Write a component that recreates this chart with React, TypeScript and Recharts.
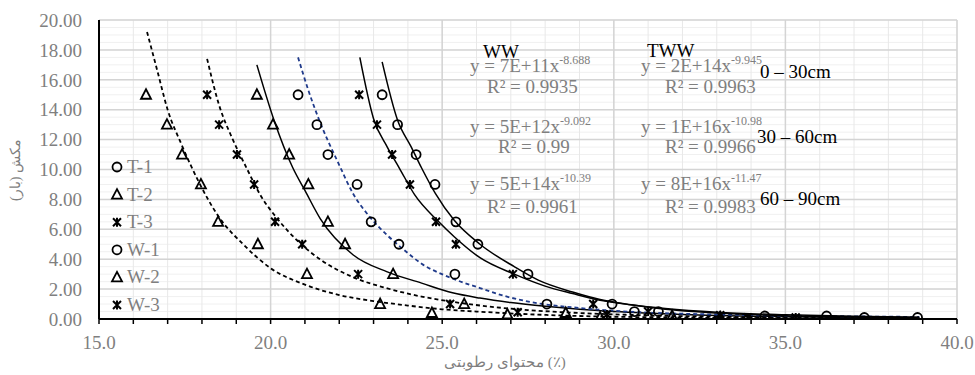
import React from 'react';
import {
  ComposedChart,
  Scatter,
  Line,
  XAxis,
  YAxis,
  CartesianGrid,
} from 'recharts';

// measured points (x = moisture %, y = suction bar)
const T1 = [
  { x: 23.25, y: 15 }, { x: 23.7, y: 13 }, { x: 24.24, y: 11 }, { x: 24.79, y: 9 },
  { x: 25.4, y: 6.5 }, { x: 26.04, y: 5 }, { x: 27.5, y: 3 }, { x: 29.95, y: 1 },
  { x: 31.3, y: 0.5 }, { x: 36.2, y: 0.2 }, { x: 38.85, y: 0.1 },
];
const T2 = [
  { x: 19.6, y: 15 }, { x: 20.07, y: 13 }, { x: 20.54, y: 11 }, { x: 21.1, y: 9 },
  { x: 21.67, y: 6.5 }, { x: 22.17, y: 5 }, { x: 23.57, y: 3 }, { x: 25.64, y: 1 },
  { x: 28.6, y: 0.4 }, { x: 31.7, y: 0.2 }, { x: 33.1, y: 0.1 },
];
const T3 = [
  { x: 22.58, y: 15 }, { x: 23.1, y: 13 }, { x: 23.54, y: 11 }, { x: 24.06, y: 9 },
  { x: 24.82, y: 6.5 }, { x: 25.4, y: 5 }, { x: 27.06, y: 3 }, { x: 29.4, y: 1 },
  { x: 31.0, y: 0.5 }, { x: 33.1, y: 0.25 }, { x: 35.3, y: 0.1 },
];
const W1 = [
  { x: 20.8, y: 15 }, { x: 21.35, y: 13 }, { x: 21.67, y: 11 }, { x: 22.52, y: 9 },
  { x: 22.93, y: 6.5 }, { x: 23.74, y: 5 }, { x: 25.37, y: 3 }, { x: 28.05, y: 1 },
  { x: 30.6, y: 0.5 }, { x: 34.4, y: 0.2 }, { x: 37.3, y: 0.1 },
];
const W2 = [
  { x: 16.37, y: 15 }, { x: 16.98, y: 13 }, { x: 17.42, y: 11 }, { x: 17.97, y: 9 },
  { x: 18.47, y: 6.5 }, { x: 19.63, y: 5 }, { x: 21.06, y: 3 }, { x: 23.19, y: 1 },
  { x: 24.7, y: 0.4 }, { x: 26.9, y: 0.3 }, { x: 29.6, y: 0.1 },
];
const W3 = [
  { x: 18.15, y: 15 }, { x: 18.5, y: 13 }, { x: 19.02, y: 11 }, { x: 19.52, y: 9 },
  { x: 20.13, y: 6.5 }, { x: 20.92, y: 5 }, { x: 22.55, y: 3 }, { x: 25.23, y: 1 },
  { x: 27.2, y: 0.45 }, { x: 29.8, y: 0.3 }, { x: 33.9, y: 0.1 },
];

// trend lines
const fitWW1 = [
  { x: 16.4, y: 19.2 }, { x: 16.7, y: 16.6 }, { x: 17.0, y: 14.0 }, { x: 17.4, y: 11.7 },
  { x: 17.9, y: 9.2 }, { x: 18.5, y: 6.8 }, { x: 19.2, y: 5.0 }, { x: 20.0, y: 3.4 },
  { x: 21.0, y: 2.3 }, { x: 22.0, y: 1.6 }, { x: 23.0, y: 1.2 }, { x: 24.0, y: 0.9 },
  { x: 25.0, y: 0.65 }, { x: 26.0, y: 0.5 }, { x: 27.5, y: 0.32 }, { x: 29.0, y: 0.2 },
  { x: 31.0, y: 0.12 }, { x: 34.0, y: 0.06 }, { x: 38.9, y: 0.03 },
];
const fitWW2 = [
  { x: 18.15, y: 17.4 }, { x: 18.5, y: 14.3 }, { x: 18.9, y: 12.0 }, { x: 19.3, y: 10.1 },
  { x: 19.7, y: 8.3 }, { x: 20.2, y: 6.7 }, { x: 20.8, y: 5.2 }, { x: 21.5, y: 3.9 },
  { x: 22.4, y: 2.8 }, { x: 23.4, y: 2.05 }, { x: 24.4, y: 1.5 }, { x: 25.3, y: 1.15 },
  { x: 26.3, y: 0.85 }, { x: 27.5, y: 0.6 }, { x: 29.0, y: 0.4 }, { x: 31.0, y: 0.24 },
  { x: 34.0, y: 0.12 }, { x: 38.9, y: 0.05 },
];
const fitWW3 = [
  { x: 19.6, y: 17.0 }, { x: 20.1, y: 13.3 }, { x: 20.65, y: 10.1 }, { x: 21.0, y: 8.6 },
  { x: 21.45, y: 6.7 }, { x: 22.4, y: 4.3 }, { x: 23.4, y: 3.15 }, { x: 24.4, y: 2.4 },
  { x: 25.3, y: 1.75 }, { x: 26.1, y: 1.4 }, { x: 27.0, y: 1.1 }, { x: 28.0, y: 0.85 },
  { x: 29.0, y: 0.65 }, { x: 30.0, y: 0.5 }, { x: 32.0, y: 0.3 }, { x: 35.0, y: 0.15 },
  { x: 38.9, y: 0.07 },
];
const fitTWW1 = [
  { x: 20.8, y: 17.5 }, { x: 21.1, y: 15.3 }, { x: 21.4, y: 13.4 }, { x: 22.0, y: 10.3 },
  { x: 22.4, y: 8.4 }, { x: 22.9, y: 6.8 }, { x: 23.4, y: 5.6 }, { x: 23.9, y: 4.6 },
  { x: 24.4, y: 3.7 }, { x: 25.2, y: 2.8 }, { x: 26.1, y: 2.07 }, { x: 26.8, y: 1.55 },
  { x: 27.8, y: 1.05 }, { x: 28.8, y: 0.78 }, { x: 29.7, y: 0.6 }, { x: 31.1, y: 0.42 },
  { x: 33.0, y: 0.3 }, { x: 36.0, y: 0.2 }, { x: 38.9, y: 0.14 },
];
const fitTWW2 = [
  { x: 22.6, y: 17.5 }, { x: 23.0, y: 13.4 }, { x: 23.4, y: 11.5 }, { x: 23.75, y: 10.1 },
  { x: 24.2, y: 8.3 }, { x: 24.9, y: 6.5 }, { x: 25.35, y: 5.5 }, { x: 26.1, y: 4.1 },
  { x: 27.1, y: 3.0 }, { x: 28.0, y: 2.2 }, { x: 28.8, y: 1.7 }, { x: 29.6, y: 1.25 },
  { x: 30.5, y: 0.95 }, { x: 31.5, y: 0.7 }, { x: 33.0, y: 0.45 }, { x: 35.0, y: 0.28 },
  { x: 37.0, y: 0.18 }, { x: 38.9, y: 0.12 },
];
const fitTWW3 = [
  { x: 23.25, y: 17.2 }, { x: 23.7, y: 13.3 }, { x: 24.1, y: 11.5 }, { x: 24.4, y: 10.1 },
  { x: 24.8, y: 8.4 }, { x: 25.35, y: 6.6 }, { x: 26.1, y: 5.0 }, { x: 27.1, y: 3.5 },
  { x: 27.8, y: 2.6 }, { x: 28.8, y: 1.8 }, { x: 29.6, y: 1.3 }, { x: 30.5, y: 0.95 },
  { x: 31.5, y: 0.65 }, { x: 33.0, y: 0.4 }, { x: 35.0, y: 0.22 }, { x: 37.0, y: 0.14 },
  { x: 38.9, y: 0.1 },
];

const xTicks = Array.from({ length: 26 }, (_, i) => 15 + i);
const xMajor = [15, 20, 25, 30, 35, 40];
const yTicks = [0, 2, 4, 6, 8, 10, 12, 14, 16, 18, 20];
const yMinor = Array.from({ length: 41 }, (_, i) => i * 0.5);

const legendItems = [
  { name: 'T-1', shape: 'circle' },
  { name: 'T-2', shape: 'triangle' },
  { name: 'T-3', shape: 'star' },
  { name: 'W-1', shape: 'circle' },
  { name: 'W-2', shape: 'triangle' },
  { name: 'W-3', shape: 'star' },
];

const FONT = '"Liberation Serif", "DejaVu Serif", serif';
const GREY = '#7f7f7f';

function Marker({ kind, cx, cy }: { kind: string; cx: number; cy: number }) {
  if (kind === 'circle') {
    return <circle cx={cx} cy={cy} r={4.5} fill="none" stroke="#000" strokeWidth={1.8} />;
  }
  if (kind === 'triangle') {
    return (
      <path
        d={`M${cx},${cy - 5.5}L${cx - 5},${cy + 4}L${cx + 5},${cy + 4}Z`}
        fill="none"
        stroke="#000"
        strokeWidth={1.8}
      />
    );
  }
  return (
    <path
      d={`M${cx - 4},${cy - 4}L${cx + 4},${cy + 4}M${cx + 4},${cy - 4}L${cx - 4},${cy + 4}M${cx},${cy - 4.5}L${cx},${cy + 4.5}`}
      stroke="#000"
      strokeWidth={2}
      fill="none"
    />
  );
}

const shapeOf = (kind: string) => (p: any) => <Marker kind={kind} cx={p.cx} cy={p.cy} />;

function Eq({ x, y, base, exp }: { x: number; y: number; base: string; exp: string }) {
  return (
    <text x={x} y={y} fontFamily={FONT} fontSize={19} fill={GREY}>
      {base}
      <tspan dy={-8} fontSize={12}>{exp}</tspan>
    </text>
  );
}

function Annotations() {
  const black = { fontFamily: FONT, fontSize: 19, fill: '#000' };
  const grey = { fontFamily: FONT, fontSize: 19, fill: GREY };
  return (
    <svg
      width={975}
      height={375}
      style={{ position: 'absolute', left: 0, top: 0, pointerEvents: 'none' }}
    >
      {/* legend */}
      {legendItems.map((it, i) => (
        <g key={it.name}>
          <Marker kind={it.shape} cx={117} cy={167 + i * 27.6} />
          <text x={127} y={167 + i * 27.6 + 6} {...grey}>{it.name}</text>
        </g>
      ))}

      <text x={483} y={58} {...black}>WW</text>
      <Eq x={470} y={72} base="y = 7E+11x" exp="-8.688" />
      <text x={487} y={93} {...grey}>R² = 0.9935</text>
      <Eq x={470} y={133} base="y = 5E+12x" exp="-9.092" />
      <text x={498} y={153} {...grey}>R² = 0.99</text>
      <Eq x={470} y={190} base="y = 5E+14x" exp="-10.39" />
      <text x={487} y={213} {...grey}>R² = 0.9961</text>

      <text x={647} y={57} {...black}>TWW</text>
      <Eq x={641} y={72} base="y = 2E+14x" exp="-9.945" />
      <text x={665} y={93} {...grey}>R² = 0.9963</text>
      <text x={760} y={78} {...black}>0 – 30cm</text>
      <Eq x={641} y={133} base="y = 1E+16x" exp="-10.98" />
      <text x={665} y={153} {...grey}>R² = 0.9966</text>
      <text x={757} y={143} {...black}>30 – 60cm</text>
      <Eq x={641} y={190} base="y = 8E+16x" exp="-11.47" />
      <text x={665} y={213} {...grey}>R² = 0.9983</text>
      <text x={760} y={205} {...black}>60 – 90cm</text>

      <text x={505} y={367} textAnchor="middle" fontFamily={FONT} fontSize={15} fill={GREY}>
        محتوای رطوبتی (٪)
      </text>
      <text
        x={20}
        y={170}
        textAnchor="middle"
        transform="rotate(-90 20 170)"
        fontFamily={FONT}
        fontSize={14}
        fill={GREY}
      >
        مکش (بار)
      </text>
    </svg>
  );
}

export default function App() {
  const tickStyle = { fontFamily: FONT, fontSize: 19, fill: GREY };
  return (
    <div style={{ position: 'absolute', left: 0, top: 0, width: 975, height: 375, background: '#fff' }}>
      <ComposedChart width={975} height={375} margin={{ top: 20, right: 18, left: 0, bottom: 26 }}>
        <CartesianGrid horizontalValues={yMinor} vertical={false} stroke="#f0f0f0" strokeWidth={1} />
        <CartesianGrid verticalValues={xTicks} horizontal={false} stroke="#e8e8e8" strokeWidth={1} />
        <CartesianGrid horizontalValues={yTicks} verticalValues={xMajor} stroke="#d4d4d4" strokeWidth={1.5} />
        <XAxis
          dataKey="x"
          type="number"
          domain={[15, 40]}
          ticks={xTicks}
          interval={0}
          tickFormatter={(v: number) => (v % 5 === 0 ? v.toFixed(1) : '')}
          tick={tickStyle}
          tickSize={5}
          tickMargin={12}
          tickLine={{ stroke: '#000', strokeWidth: 1.5 }}
          axisLine={{ stroke: '#000', strokeWidth: 2 }}
          height={30}
          allowDataOverflow
        />
        <XAxis
          xAxisId="top"
          orientation="top"
          type="number"
          domain={[15, 40]}
          tick={false}
          tickLine={false}
          axisLine={{ stroke: '#000', strokeWidth: 1.5 }}
          height={0}
        />
        <YAxis
          type="number"
          domain={[0, 20]}
          ticks={yTicks}
          interval={0}
          tickFormatter={(v: number) => v.toFixed(2)}
          tick={tickStyle}
          tickLine={false}
          tickSize={0}
          tickMargin={17}
          axisLine={{ stroke: '#000', strokeWidth: 2 }}
          width={99}
          allowDataOverflow
        />
        <YAxis
          yAxisId="right"
          orientation="right"
          type="number"
          domain={[0, 20]}
          tick={false}
          tickLine={false}
          axisLine={{ stroke: '#000', strokeWidth: 2 }}
          width={0}
        />

        <Line data={fitWW1} dataKey="y" type="monotone" dot={false} stroke="#000" strokeWidth={1.8} strokeDasharray="4 3" isAnimationActive={false} />
        <Line data={fitWW2} dataKey="y" type="monotone" dot={false} stroke="#000" strokeWidth={1.8} strokeDasharray="4 3" isAnimationActive={false} />
        <Line data={fitWW3} dataKey="y" type="monotone" dot={false} stroke="#000" strokeWidth={1.5} isAnimationActive={false} />
        <Line data={fitTWW1} dataKey="y" type="monotone" dot={false} stroke="#1f3a8a" strokeWidth={1.8} strokeDasharray="4 3" isAnimationActive={false} />
        <Line data={fitTWW2} dataKey="y" type="monotone" dot={false} stroke="#000" strokeWidth={1.5} isAnimationActive={false} />
        <Line data={fitTWW3} dataKey="y" type="monotone" dot={false} stroke="#000" strokeWidth={1.5} isAnimationActive={false} />

        <Scatter name="T-1" data={T1} dataKey="y" shape={shapeOf('circle')} isAnimationActive={false} />
        <Scatter name="T-2" data={T2} dataKey="y" shape={shapeOf('triangle')} isAnimationActive={false} />
        <Scatter name="T-3" data={T3} dataKey="y" shape={shapeOf('star')} isAnimationActive={false} />
        <Scatter name="W-1" data={W1} dataKey="y" shape={shapeOf('circle')} isAnimationActive={false} />
        <Scatter name="W-2" data={W2} dataKey="y" shape={shapeOf('triangle')} isAnimationActive={false} />
        <Scatter name="W-3" data={W3} dataKey="y" shape={shapeOf('star')} isAnimationActive={false} />
      </ComposedChart>
      <Annotations />
    </div>
  );
}
